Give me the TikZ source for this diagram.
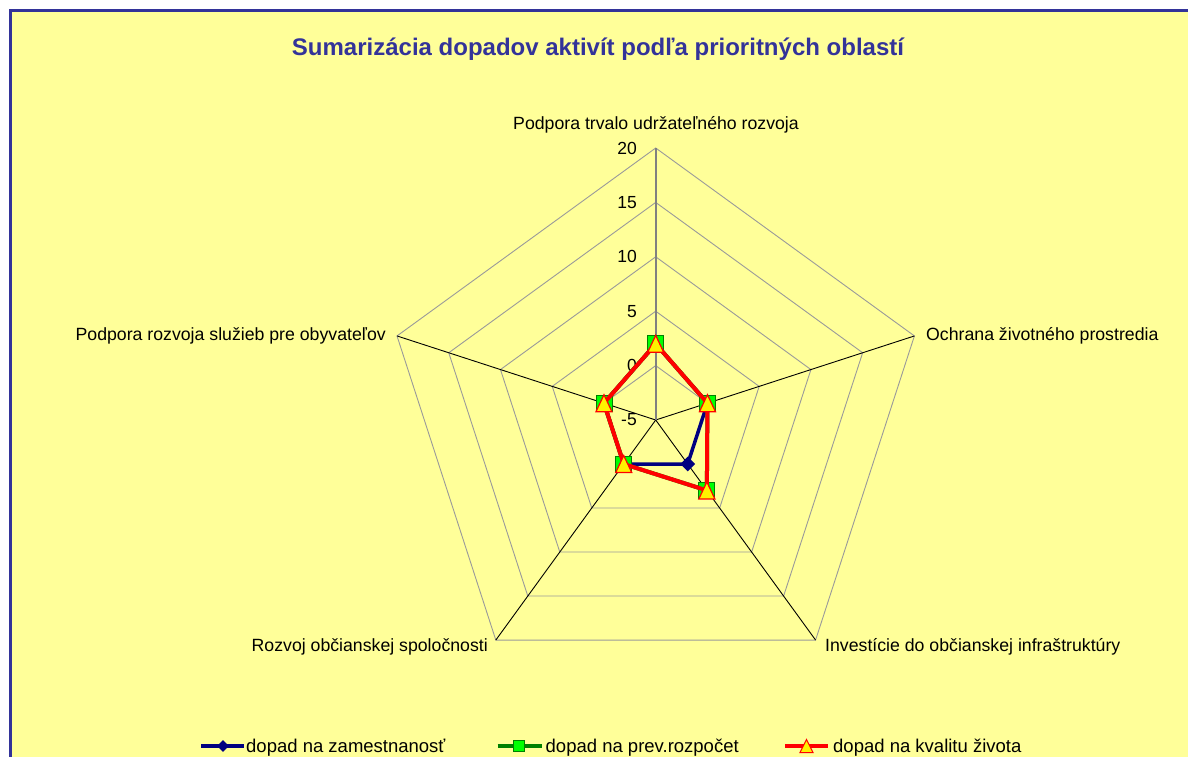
\documentclass[tikz,border=0pt]{standalone}
\usepackage{fontspec}
\setmainfont{Liberation Sans}
\usetikzlibrary{shapes.geometric}
\definecolor{bg}{HTML}{FFFF99}
\definecolor{framecol}{HTML}{333399}
\definecolor{navy}{HTML}{000080}
\definecolor{dgreen}{HTML}{008000}
\definecolor{lgreen}{HTML}{00FF00}
\definecolor{gridgray}{HTML}{9A9A9A}
\definecolor{axisgray}{HTML}{808080}
\begin{document}
\begin{tikzpicture}[x=1pt,y=-1pt,
  titlefont/.style={font=\fontsize{24}{28}\selectfont\bfseries, text=framecol, inner sep=0pt},
  catlabel/.style={font=\fontsize{17.7}{21}\selectfont, text=black, inner sep=0pt},
  ticklabel/.style={font=\fontsize{17.5}{21}\selectfont, text=black, inner sep=0pt, anchor=east},
  leglabel/.style={font=\fontsize{18.5}{22}\selectfont, text=black, inner sep=0pt, anchor=base west},
  gridline/.style={draw=gridgray, line width=0.9pt},
  axisline/.style={draw=black, line width=0.9pt},
  valaxis/.style={draw=axisgray, line width=1.6pt},
  blueser/.style={draw=navy, line width=3.5pt, line join=round},
  greenser/.style={draw=dgreen, line width=4pt, line join=round},
  redser/.style={draw=red, line width=4pt, line join=round},
  dmark/.style={diamond, fill=navy, minimum size=15pt, inner sep=0pt},
  smark/.style={rectangle, fill=lgreen, draw=dgreen, line width=0.8pt, minimum size=16pt, inner sep=0pt},
  tri/.pic={\draw[red, fill=yellow, line width=1.2pt, line join=miter] (-8,8.5) -- (0,-8.5) -- (8,8.5) -- cycle;},
  trismall/.pic={\draw[red, fill=yellow, line width=1pt, line join=miter] (-6.5,6.5) -- (0,-6.5) -- (6.5,6.5) -- cycle;}
]
\useasboundingbox (0,0) rectangle (1188,757);
\fill[white] (0,0) rectangle (1188,757);
\begin{scope}
  \clip (0,0) rectangle (1188,757);
  \draw[framecol, line width=3pt, fill=bg] (10.5,10.5) rectangle (1230,800);
\end{scope}

\node[titlefont, anchor=base] (title) at (598,55.5) {Sumarizácia dopadov aktivít podľa prioritných oblastí};

\begin{scope}[shift={(655.7,420)}]
  % grid rings
  \foreach \k in {1,...,5} {
    \pgfmathsetmacro{\rr}{\k*54.4}
    \draw[gridline] (-90:\rr) -- (-18:\rr) -- (54:\rr) -- (126:\rr) -- (198:\rr) -- cycle;
  }
  \coordinate (O) at (0,0);
  \coordinate (vA) at (-90:272);
  \coordinate (vB) at (-18:272);
  \coordinate (vC) at (54:272);
  \coordinate (vD) at (126:272);
  \coordinate (vE) at (198:272);
  \draw[axisline] (O) -- (vB);
  \draw[axisline] (O) -- (vC);
  \draw[axisline] (O) -- (vD);
  \draw[axisline] (O) -- (vE);
  \draw[valaxis] (O) -- (vA);
  % tick labels
  \foreach \v [count=\i from 0] in {-5,0,5,10,15,20} {
    \node[ticklabel] (t\i) at (-18.7,{-\i*54.4}) {\v};
  }
  % data coordinates
  \coordinate (b1) at (-90:76.16);
  \coordinate (b2) at (-18:54.4);
  \coordinate (b3) at (54:54.4);
  \coordinate (b4) at (126:54.4);
  \coordinate (b5) at (198:54.4);
  \coordinate (r1) at (-90:76.16);
  \coordinate (r2) at (-18:54.4);
  \coordinate (r3) at (54:87.04);
  \coordinate (r4) at (126:54.4);
  \coordinate (r5) at (198:54.4);
  % series
  \draw[blueser] (b1) -- (b2) -- (b3) -- (b4) -- (b5) -- cycle;
  \foreach \p in {b1,b2,b3,b4,b5} \node[dmark] at (\p) {};
  \draw[greenser] (r1) -- (r2) -- (r3) -- (r4) -- (r5) -- cycle;
  \foreach \p in {r1,r2,r3,r4,r5} \node[smark] at (\p) {};
  \draw[redser] (r1) -- (r2) -- (r3) -- (r4) -- (r5) -- cycle;
  \foreach \p in {r1,r2,r3,r4,r5} \pic at (\p) {tri};
\end{scope}

% category labels
\node[catlabel, anchor=base] (cA) at (656,130) {Podpora trvalo udržateľného rozvoja};
\node[catlabel, anchor=base west] (cB) at (926,340) {Ochrana životného prostredia};
\node[catlabel, anchor=base west] (cC) at (825,651) {Investície do občianskej infraštruktúry};
\node[catlabel, anchor=base east] (cD) at (488,651) {Rozvoj občianskej spoločnosti};
\node[catlabel, anchor=base east] (cE) at (386,340) {Podpora rozvoja služieb pre obyvateľov};

% legend
\coordinate (l1a) at (201,746); \coordinate (l1b) at (244,746); \coordinate (l1m) at (223,746);
\coordinate (l2a) at (497.5,746); \coordinate (l2b) at (542,746); \coordinate (l2m) at (519,746);
\coordinate (l3a) at (785,746); \coordinate (l3b) at (828,746); \coordinate (l3m) at (806.5,746);
\draw[blueser] (l1a) -- (l1b);
\node[dmark, minimum size=12pt] (m1) at (l1m) {};
\node[leglabel] (lt1) at (246,752) {dopad na zamestnanosť};
\draw[greenser, line width=3.5pt] (l2a) -- (l2b);
\node[smark, minimum size=11pt] (m2) at (l2m) {};
\node[leglabel] (lt2) at (545.5,752) {dopad na prev.rozpočet};
\draw[redser, line width=3.5pt] (l3a) -- (l3b);
\pic at (l3m) {trismall};
\node[leglabel] (lt3) at (833,752) {dopad na kvalitu života};
\end{tikzpicture}
\end{document}
